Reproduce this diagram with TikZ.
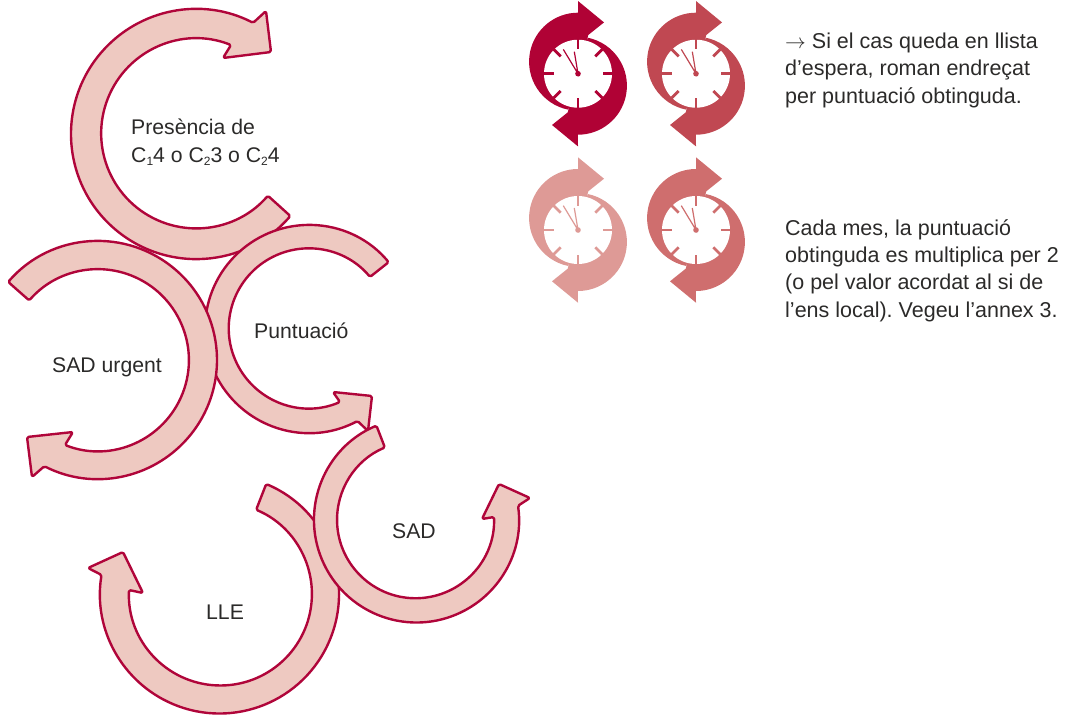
\documentclass[tikz,border=0pt]{standalone}
\usepackage{fontspec}
\setmainfont{Liberation Sans}
\usepackage{xcolor}
\definecolor{swirlline}{HTML}{B0053A}
\definecolor{swirlfill}{HTML}{EEC9C1}
\definecolor{labeltext}{HTML}{2B2A29}
\definecolor{clockA}{HTML}{B00235}
\definecolor{clockB}{HTML}{C04852}
\definecolor{clockC}{HTML}{DE9A96}
\definecolor{clockD}{HTML}{CF6E6E}
\newcommand{\clockhalf}[1]{%
  \fill[#1] (0,-72.7) -- (26,-51.3) -- (10.3,-38.7) -- (0,0) -- (-9.7,36)
    arc[start angle=101.5, end angle=270, radius=49] -- cycle;}
\newcommand{\grupsub}[1]{\raisebox{-3.5pt}{\fontsize{12}{12}\selectfont #1}}
\frenchspacing
\begin{document}
\begin{tikzpicture}[x=1pt, y=1pt, yscale=-1,
    swirl/.style={draw=swirlline, fill=swirlfill, line width=2.4pt, line join=round, rounded corners=1.6pt},
    label/.style={text=labeltext, font=\fontsize{21.2}{27.4}\selectfont, anchor=base west, inner sep=0pt},
    note/.style={label, font=\fontsize{21.5}{27.4}\selectfont, align=left, anchor=north west}]
\useasboundingbox (0,0) rectangle (1069,715);

% presencia
\draw[swirl] (196,134) ++(41:125) arc[start angle=41, end angle=297.2, radius=125]
    -- (266,11) -- (271,52) -- (223,58) -- (231,45)
    arc[start angle=291.5, end angle=41, radius=95] -- cycle;
% puntuacio
\draw[swirl] (309,329) ++(320:104) arc[start angle=320, end angle=62.2, radius=104]
    -- (368,431) -- (372,396) -- (333,392) -- (340,402)
    arc[start angle=67, end angle=320, radius=80] -- cycle;
% sad urgent
\draw[swirl] (98,360) ++(221:119) arc[start angle=221, end angle=476.8, radius=119]
    -- (32,477) -- (27,437) -- (73,432) -- (65,445)
    arc[start angle=471.2, end angle=221, radius=91] -- cycle;
% lle
\draw[swirl] (219.5,594) ++(293:119.5) arc[start angle=293, end angle=549.2, radius=119.5]
    -- (88,568) -- (123,552) -- (143,593) -- (129,590)
    arc[start angle=542.5, end angle=293, radius=91.5] -- cycle;
% sad
\draw[swirl] (416.5,520) ++(247:102.5) arc[start angle=247, end angle=-8, radius=102.5]
    -- (530,498) -- (499,484) -- (482,519) -- (494,517)
    arc[start angle=-2, end angle=247, radius=78.5] -- cycle;

\node[label] (presencia) at (131,134) {Presència de};
\node[label] (grups) at (131,162) {C\grupsub{1}4 o C\grupsub{2}3 o C\grupsub{2}4};
\node[label] (puntuacio) at (254,338) {Puntuació};
\node[label] (urgent) at (52,372) {SAD urgent};
\node[label] (sad) at (392,538) {SAD};
\node[label] (lle) at (206,619) {LLE};

% clocks
\foreach \cx/\cy/\col in {578/73.7/clockA, 696/73.7/clockB, 578/230/clockC, 696/230/clockD} {
  \begin{scope}[shift={(\cx,\cy)}]
    \clockhalf{\col}
    \begin{scope}[rotate=180]
      \clockhalf{\col}
    \end{scope}
    \fill[white] (0,0) circle[radius=34];
    \foreach \a in {0,45,...,315}
      \draw[\col, line width=2.8pt] (\a:34.5) -- (\a:24.5);
    \draw[\col, line width=1.2pt] (-14.7,-24.3) -- (0,0) -- (-3.7,-22);
    \fill[\col] (0,0) circle[radius=2.8];
  \end{scope}
}

\node[note] (espera) at (785,32.5) {$\rightarrow$ Si el cas queda en llista\\d’espera, roman endreçat\\per puntuació obtinguda.};
\node[note] (mes) at (785,219) {Cada mes, la puntuació\\obtinguda es multiplica per 2\\(o pel valor acordat al si de\\l’ens local). Vegeu l’annex 3.};
\end{tikzpicture}
\end{document}
